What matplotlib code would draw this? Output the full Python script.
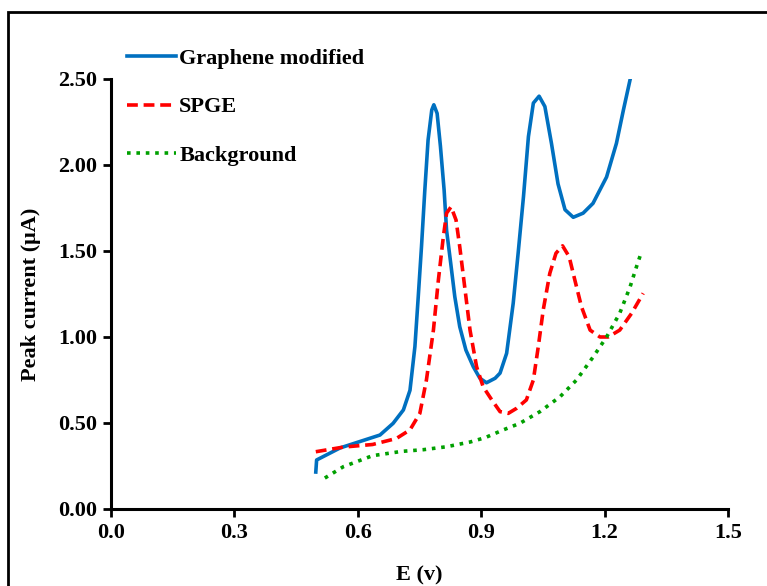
import matplotlib
matplotlib.use("Agg")
from matplotlib import pyplot as plt
from matplotlib.patches import Rectangle

# values (E in V, current in uA)
graphene_e = [0.498, 0.500, 0.557, 0.654, 0.686, 0.711, 0.727, 0.739, 0.747, 0.755, 0.763, 0.771,
              0.780, 0.785, 0.793, 0.801, 0.810, 0.816, 0.826, 0.836, 0.848, 0.863, 0.881, 0.897,
              0.913, 0.934, 0.946, 0.962, 0.978, 0.990, 1.003, 1.015, 1.027, 1.041, 1.055, 1.071,
              1.087, 1.104, 1.124, 1.148, 1.172, 1.205, 1.229, 1.246, 1.262]
graphene_i = [0.215, 0.285, 0.355, 0.43, 0.498, 0.576, 0.69, 0.944, 1.23, 1.525, 1.85, 2.145,
              2.32, 2.35, 2.30, 2.11, 1.855, 1.62, 1.43, 1.234, 1.06, 0.924, 0.827, 0.76,
              0.734, 0.76, 0.79, 0.905, 1.196, 1.487, 1.816, 2.165, 2.36, 2.40, 2.34, 2.126,
              1.89, 1.74, 1.696, 1.72, 1.777, 1.93, 2.126, 2.32, 2.494]

spge_e = [0.498, 0.565, 0.636, 0.694, 0.727, 0.751, 0.767, 0.784, 0.796, 0.808, 0.816, 0.827,
          0.839, 0.848, 0.861, 0.873, 0.889, 0.905, 0.926, 0.946, 0.966, 0.986, 1.010, 1.027,
          1.039, 1.051, 1.067, 1.082, 1.098, 1.114, 1.128, 1.144, 1.165, 1.189, 1.209, 1.237,
          1.266, 1.294]
spge_i = [0.333, 0.36, 0.375, 0.41, 0.46, 0.556, 0.75, 1.04, 1.33, 1.58, 1.72, 1.757,
          1.68, 1.525, 1.273, 1.04, 0.827, 0.71, 0.634, 0.566, 0.556, 0.585, 0.634, 0.75,
          0.944, 1.157, 1.37, 1.487, 1.53, 1.467, 1.33, 1.176, 1.04, 1.00, 1.00, 1.04,
          1.138, 1.254]

bg_e = [0.520, 0.565, 0.636, 0.707, 0.760, 0.816, 0.874, 0.910, 0.954, 0.994, 1.043, 1.092,
        1.132, 1.173, 1.205, 1.237, 1.262, 1.278, 1.290]
bg_i = [0.18, 0.246, 0.31, 0.335, 0.345, 0.362, 0.39, 0.415, 0.46, 0.498, 0.566, 0.653,
        0.75, 0.886, 1.00, 1.138, 1.29, 1.41, 1.496]

x_ticks = [0.0, 0.3, 0.6, 0.9, 1.2, 1.5]
y_ticks = [0.0, 0.5, 1.0, 1.5, 2.0, 2.5]

plt.rcParams["font.family"] = ["Liberation Serif", "DejaVu Serif"]
plt.rcParams["font.weight"] = "bold"

fig = plt.figure(figsize=(7.67, 5.86), dpi=100)
ax = fig.add_axes([0.1447, 0.1314, 0.8043, 0.7338])

ax.plot(graphene_e, graphene_i, color="#0070c0", lw=2.6, solid_joinstyle="round",
        label="Graphene modified")
ax.plot(spge_e, spge_i, color="#ff0000", lw=2.6, ls=(0, (3, 1.6)), dash_joinstyle="round",
        label="SPGE")
ax.plot(bg_e, bg_i, color="#00a000", lw=2.6, ls=(0, (1, 1.6)), label="Background")

ax.set_xlim(0, 1.5)
ax.set_ylim(0, 2.5)
ax.set_xticks(x_ticks)
ax.set_xticklabels([f"{v:.1f}" for v in x_ticks])
ax.set_yticks(y_ticks)
ax.set_yticklabels([f"{v:.2f}" for v in y_ticks])
ax.tick_params(direction="out", length=6, width=2, labelsize=16, pad=4)
for s in ["top", "right"]:
    ax.spines[s].set_visible(False)
for s in ["left", "bottom"]:
    ax.spines[s].set_linewidth(2.2)

ax.set_xlabel("E (v)", fontsize=16, fontweight="bold", labelpad=16)
ax.set_ylabel("Peak current (μA)", fontsize=16, fontweight="bold", labelpad=12)

ax.legend(loc="upper left", bbox_to_anchor=(0.026, 1.071), frameon=False, fontsize=16,
          handlelength=2.2, handletextpad=0.15, labelspacing=1.25, borderpad=0,
          borderaxespad=0)

fig.patches.append(Rectangle((8 / 767, -0.1), 1.2, 1 - 12 / 586 + 0.1, transform=fig.transFigure,
                             fill=False, edgecolor="black", lw=2))

fig.savefig("out.png", dpi=100)
